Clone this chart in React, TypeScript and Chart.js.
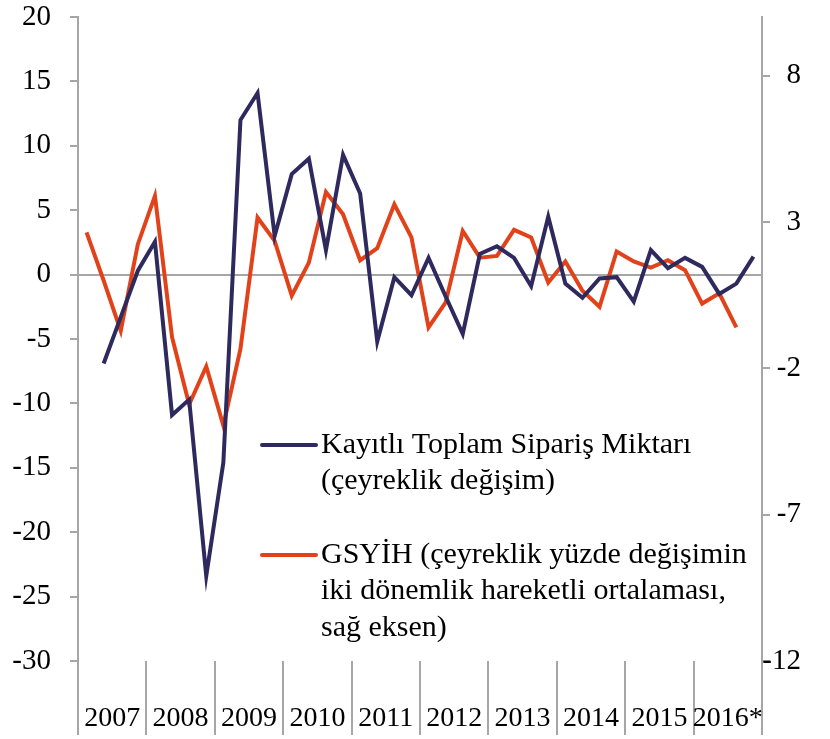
import React, { useEffect, useRef } from "react";
import { Chart, registerables } from "chart.js";

Chart.register(...registerables);

const years = ["2007", "2008", "2009", "2010", "2011", "2012", "2013", "2014", "2015", "2016*"];
const quarterLabels = years.flatMap((y) => ["Ç1", "Ç2", "Ç3", "Ç4"].map((q) => `${y} ${q}`));

// Kayıtlı Toplam Sipariş Miktarı (çeyreklik değişim) – left axis
const ordersValues: (number | null)[] = [
  null, -6.9, -3.3, 0.3,
  2.55, -10.9, -9.7, -23.4,
  -14.6, 12.0, 14.1, 3.0,
  7.8, 9.0, 1.9, 9.3,
  6.3, -5.2, -0.2, -1.6,
  1.3, -1.7, -4.6, 1.6,
  2.2, 1.3, -0.9, 4.5,
  -0.7, -1.8, -0.3, -0.2,
  -2.1, 1.9, 0.5, 1.3,
  0.6, -1.5, -0.7, 1.4,
];

// GSYİH (iki dönemlik hareketli ortalama) – right axis
const gdpValues: (number | null)[] = [
  2.64, 1.0, -0.72, 2.24,
  3.89, -0.94, -3.24, -1.94,
  -3.96, -1.34, 3.15, 2.35,
  0.48, 1.61, 4.02, 3.26,
  1.69, 2.1, 3.6, 2.47,
  -0.6, 0.25, 2.69, 1.78,
  1.84, 2.73, 2.47, 0.93,
  1.65, 0.65, 0.1, 1.99,
  1.65, 1.44, 1.69, 1.35,
  0.21, 0.56, -0.6, null,
];

const leftTicks = [-30, -25, -20, -15, -10, -5, 0, 5, 10, 15, 20];
const rightTicks = [-12, -7, -2, 3, 8];

const ordersLegend = ["Kayıtlı Toplam Sipariş Miktarı", "(çeyreklik değişim)"];
const gdpLegend = ["GSYİH (çeyreklik yüzde değişimin", "iki dönemlik hareketli ortalaması,", "sağ eksen)"];

const NAVY = "#2E2A5E";
const ORANGE = "#E2421A";
const GREY = "#A6A6A6";
const FONT = '"Liberation Serif", "DejaVu Serif", serif';

const legendPlugin = {
  id: "customLegend",
  afterDraw(chart: any) {
    const { ctx, chartArea } = chart;
    const items = [
      { lines: ordersLegend, color: NAVY, dy: 428 },
      { lines: gdpLegend, color: ORANGE, dy: 538 },
    ];
    ctx.save();
    ctx.font = `30px ${FONT}`;
    ctx.textBaseline = "middle";
    ctx.textAlign = "left";
    items.forEach((it) => {
      const y = chartArea.top + it.dy;
      ctx.strokeStyle = it.color;
      ctx.lineWidth = 4;
      ctx.lineCap = "round";
      ctx.beginPath();
      ctx.moveTo(chartArea.left + 184, y);
      ctx.lineTo(chartArea.left + 238, y);
      ctx.stroke();
      ctx.fillStyle = "#000";
      it.lines.forEach((t, k) => ctx.fillText(t, chartArea.left + 243, y + k * 36.5));
    });
    ctx.restore();
  },
};

export default function App() {
  const ref = useRef<HTMLCanvasElement | null>(null);
  useEffect(() => {
    if (!ref.current) return;
    const chart = new Chart(ref.current, {
      type: "line",
      data: {
        labels: quarterLabels,
        datasets: [
          {
            label: ordersLegend.join(" "),
            data: ordersValues,
            borderColor: NAVY,
            borderWidth: 4,
            pointRadius: 0,
            tension: 0,
            yAxisID: "y",
            xAxisID: "x",
          },
          {
            label: gdpLegend.join(" "),
            data: gdpValues,
            borderColor: ORANGE,
            borderWidth: 4,
            pointRadius: 0,
            tension: 0,
            yAxisID: "y1",
            xAxisID: "x",
          },
        ],
      },
      options: {
        animation: false,
        responsive: true,
        maintainAspectRatio: false,
        devicePixelRatio: 1,
        layout: { padding: { top: 17, right: 29, left: 0, bottom: 0 } },
        plugins: { legend: { display: false }, tooltip: { enabled: false } },
        scales: {
          x: { type: "category", display: false, offset: true },
          years: {
            type: "linear",
            position: "bottom",
            min: -0.5,
            max: 39.5,
            afterBuildTicks: (scale: any) => {
              const t: any[] = [];
              for (let k = 0; k <= years.length * 2; k++) t.push({ value: -0.5 + k * 2 });
              scale.ticks = t;
            },
            afterFit: (scale: any) => {
              scale.height = 78;
              scale.paddingLeft = 0;
              scale.paddingRight = 0;
            },
            border: { display: false },
            grid: {
              drawOnChartArea: false,
              drawTicks: true,
              tickLength: 74,
              lineWidth: 2,
              color: (c: any) =>
                c.tick && Math.round(c.tick.value + 0.5) % 4 === 0 ? GREY : "rgba(0,0,0,0)",
            },
            ticks: {
              autoSkip: false,
              maxRotation: 0,
              padding: -33,
              color: "#000",
              font: { family: FONT, size: 28 },
              callback: (v: any) => {
                const n = Math.round(Number(v) + 0.5);
                return n % 4 === 2 ? years[(n - 2) / 4] : "";
              },
            },
          },
          y: {
            type: "linear",
            position: "left",
            min: -30,
            max: 20,
            afterBuildTicks: (scale: any) => {
              scale.ticks = leftTicks.map((v) => ({ value: v }));
            },
            afterFit: (scale: any) => {
              scale.width = 78;
              scale.paddingTop = 0;
              scale.paddingBottom = 0;
            },
            border: { display: true, color: GREY, width: 2 },
            grid: {
              drawOnChartArea: true,
              drawTicks: true,
              tickLength: 8,
              lineWidth: 2,
              tickColor: GREY,
              color: (c: any) => (c.tick && c.tick.value === 0 ? GREY : "rgba(0,0,0,0)"),
            },
            ticks: {
              padding: 19,
              color: "#000",
              font: { family: FONT, size: 29 },
            },
          },
          y1: {
            type: "linear",
            position: "right",
            min: -12,
            max: 10,
            afterBuildTicks: (scale: any) => {
              scale.ticks = rightTicks.map((v) => ({ value: v }));
            },
            afterFit: (scale: any) => {
              scale.width = 39;
              scale.paddingTop = 0;
              scale.paddingBottom = 0;
            },
            border: { display: true, color: GREY, width: 2 },
            grid: {
              drawOnChartArea: false,
              drawTicks: true,
              tickLength: 8,
              lineWidth: 2,
              tickColor: GREY,
              color: GREY,
            },
            ticks: {
              padding: 10,
              crossAlign: "far",
              color: "#000",
              font: { family: FONT, size: 29 },
            },
          },
        },
      },
      plugins: [legendPlugin],
    } as any);
    return () => chart.destroy();
  }, []);
  return (
    <div style={{ position: "absolute", left: 0, top: 0, width: 830, height: 739 }}>
      <canvas ref={ref} />
    </div>
  );
}
